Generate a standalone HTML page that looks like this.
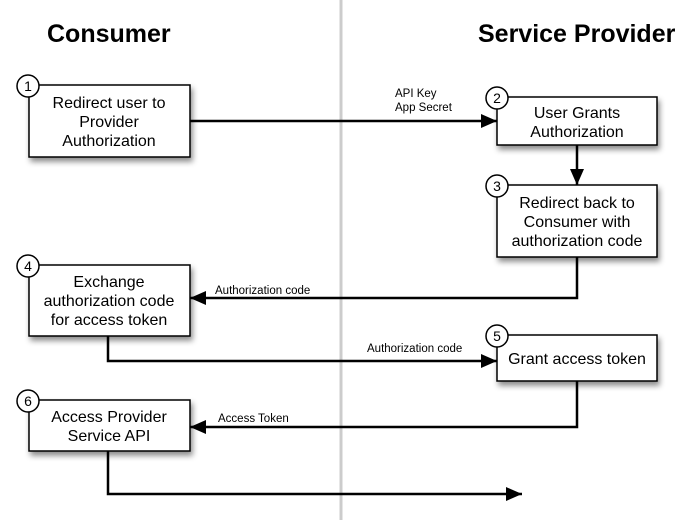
<!DOCTYPE html>
<html><head><style>html,body{margin:0;padding:0;background:#fff}</style></head><body>
<svg width="687" height="520" xmlns="http://www.w3.org/2000/svg" font-family="Liberation Sans, sans-serif">
<defs>
<filter id="sh" x="-10%" y="-10%" width="130%" height="140%"><feDropShadow dx="2" dy="4" stdDeviation="3" flood-color="#000" flood-opacity="0.45"/></filter>
<marker id="ah" markerWidth="16" markerHeight="14" refX="16" refY="7" orient="auto" markerUnits="userSpaceOnUse"><path d="M0,0 L16,7 L0,14 z" fill="#000"/></marker>
</defs>
<line x1="341" y1="0" x2="341" y2="520" stroke="#ccc" stroke-width="3"/>
<text x="47" y="42" font-size="25" font-weight="bold">Consumer</text>
<text x="478" y="42" font-size="25" font-weight="bold">Service Provider</text>
<g stroke="#000" stroke-width="2.5" fill="none">
<path d="M190,121 H497" marker-end="url(#ah)"/>
<path d="M577,145 V185" marker-end="url(#ah)"/>
<path d="M577,257 V298 H190" marker-end="url(#ah)"/>
<path d="M108,336 V361 H497" marker-end="url(#ah)"/>
<path d="M577,381 V427 H190" marker-end="url(#ah)"/>
<path d="M108,451 V494 H522" marker-end="url(#ah)"/>
</g>
<g font-size="11.5">
<text x="395" y="97">API Key</text>
<text x="395" y="111">App Secret</text>
<text x="215" y="294">Authorization code</text>
<text x="367" y="352">Authorization code</text>
<text x="218" y="422">Access Token</text>
</g>
<g fill="#fff" stroke="#000" stroke-width="1.5" filter="url(#sh)">
<rect x="29" y="85" width="161" height="72"/>
<rect x="497" y="97" width="160" height="48"/>
<rect x="497" y="185" width="160" height="72"/>
<rect x="29" y="265" width="161" height="71"/>
<rect x="497" y="335" width="160" height="46"/>
<rect x="29" y="400" width="161" height="51"/>
</g>
<g font-size="16" text-anchor="middle">
<text x="109" y="108">Redirect user to</text><text x="109" y="127">Provider</text><text x="109" y="146">Authorization</text>
<text x="577" y="118">User Grants</text><text x="577" y="137">Authorization</text>
<text x="577" y="208">Redirect back to</text><text x="577" y="227">Consumer with</text><text x="577" y="246">authorization code</text>
<text x="109" y="287">Exchange</text><text x="109" y="306">authorization code</text><text x="109" y="325">for access token</text>
<text x="577" y="364">Grant access token</text>
<text x="109" y="422">Access Provider</text><text x="109" y="441">Service API</text>
</g>
<g fill="#fff" stroke="#000" stroke-width="1.5">
<circle cx="28" cy="86" r="11"/><circle cx="497" cy="98" r="11"/><circle cx="497" cy="186" r="11"/>
<circle cx="28" cy="266" r="11"/><circle cx="497" cy="336" r="11"/><circle cx="28" cy="401" r="11"/>
</g>
<g font-size="14" text-anchor="middle">
<text x="28" y="91">1</text><text x="497" y="103">2</text><text x="497" y="191">3</text>
<text x="28" y="271">4</text><text x="497" y="341">5</text><text x="28" y="406">6</text>
</g>
</svg>
</body></html>
